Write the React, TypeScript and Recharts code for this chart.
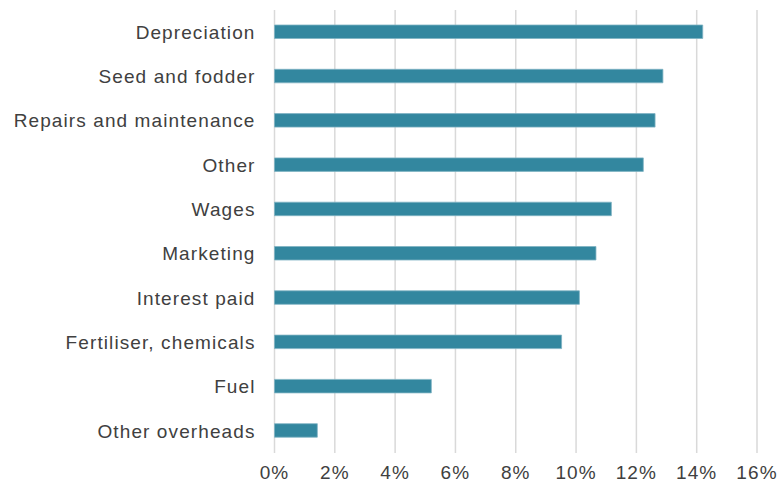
import React from 'react';
import { BarChart, Bar, XAxis, YAxis, CartesianGrid } from 'recharts';

const categories = [
  'Depreciation',
  'Seed and fodder',
  'Repairs and maintenance',
  'Other',
  'Wages',
  'Marketing',
  'Interest paid',
  'Fertiliser, chemicals',
  'Fuel',
  'Other overheads',
];
const shares = [14.2, 12.88, 12.62, 12.23, 11.17, 10.66, 10.11, 9.52, 5.2, 1.42];
const xTicks = [0, 2, 4, 6, 8, 10, 12, 14, 16];

const data = categories.map((name, i) => ({ name, value: shares[i] }));

const font = {
  fontFamily: '"Liberation Sans", Arial, sans-serif',
  fontSize: 19,
  fill: '#404040',
  letterSpacing: 1.1,
};

export default function App() {
  return (
    <div style={{ position: 'absolute', left: 0, top: 0, background: '#fff' }}>
      <BarChart
        width={780}
        height={491}
        data={data}
        layout="vertical"
        margin={{ top: 10, right: 23, bottom: 8, left: 0 }}
        barCategoryGap={0}
      >
        <CartesianGrid horizontal={false} stroke="#d9d9d9" strokeWidth={1.5} />
        <XAxis
          type="number"
          domain={[0, 16]}
          ticks={xTicks}
          tickFormatter={(v: number) => `${v}%`}
          axisLine={false}
          tickLine={false}
          tickSize={0}
          tickMargin={13}
          tick={font}
          interval={0}
          height={30}
        />
        <YAxis
          type="category"
          dataKey="name"
          width={274.5}
          axisLine={false}
          tickLine={false}
          tickSize={0}
          tickMargin={19}
          tick={font}
          interval={0}
        />
        <Bar
          dataKey="value"
          fill="#33879f"
          stroke="#7fb3c3"
          strokeWidth={0.8}
          barSize={13.5}
          isAnimationActive={false}
        />
      </BarChart>
    </div>
  );
}
